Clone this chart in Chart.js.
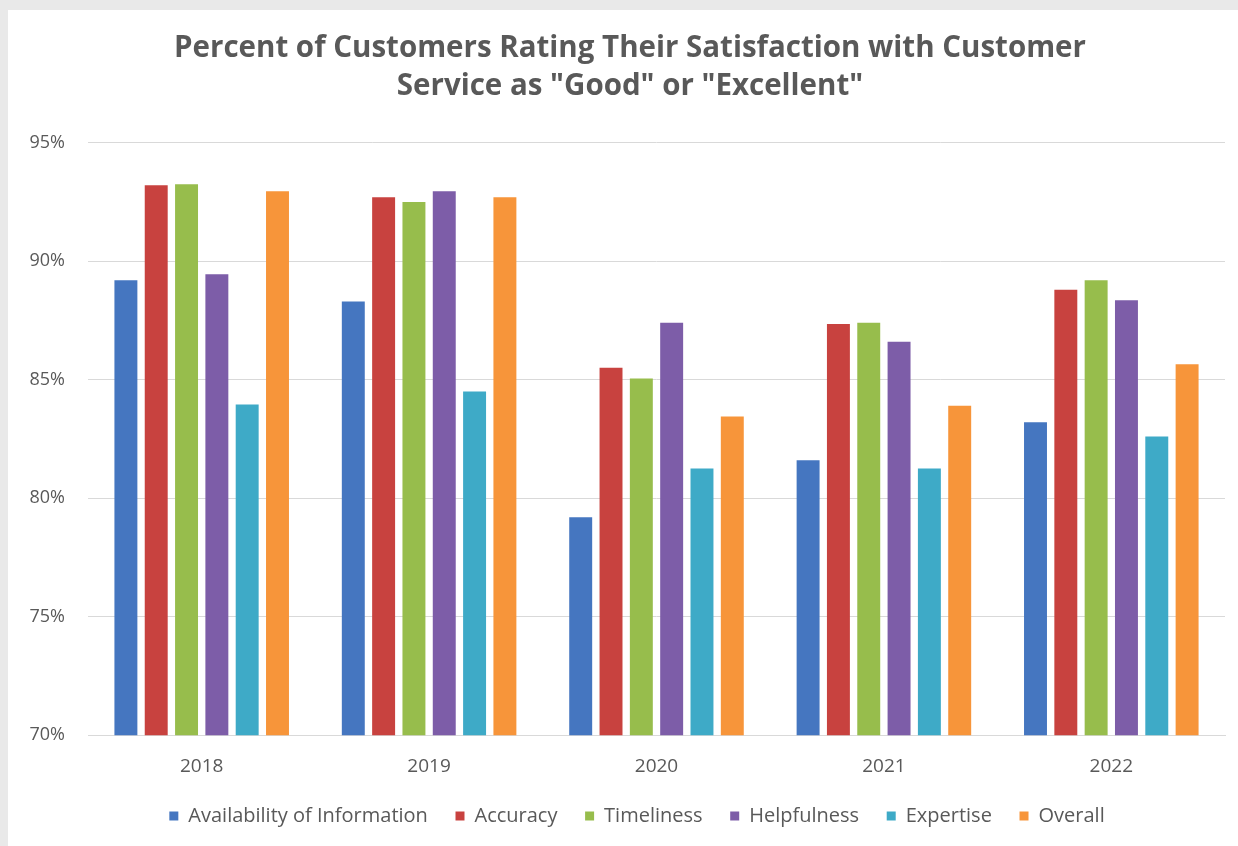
<!DOCTYPE html>
<html>
<head>
<meta charset="utf-8">
<script src="https://cdn.jsdelivr.net/npm/chart.js@4"></script>
<style>
    html, body { margin: 0; padding: 0; background: #e9e9e9; overflow: hidden; }
    #wrap { position: absolute; left: 8px; top: 10px; width: 1230px; height: 836px; background: #fff; }
    #box { position: relative; width: 1230px; height: 829px; }
</style>
</head>
<body>
<div id="wrap"><div id="box"><canvas id="chart"></canvas></div></div>
<script>
const years = ['2018', '2019', '2020', '2021', '2022'];
const seriesNames = ['Availability of Information', 'Accuracy', 'Timeliness', 'Helpfulness', 'Expertise', 'Overall'];
const availability = [89.2, 88.3, 79.2, 81.6, 83.2];
const accuracy     = [93.2, 92.7, 85.5, 87.35, 88.8];
const timeliness   = [93.25, 92.5, 85.05, 87.4, 89.2];
const helpfulness  = [89.45, 92.95, 87.4, 86.6, 88.35];
const expertise    = [83.95, 84.5, 81.25, 81.25, 82.6];
const overall      = [92.95, 92.7, 83.45, 83.9, 85.65];
const yTicks = [70, 75, 80, 85, 90, 95];

const colors = ['#4576c0', '#c8423f', '#97bd4c', '#7d5da8', '#3eaac7', '#f7953a'];
const values = [availability, accuracy, timeliness, helpfulness, expertise, overall];

// nudge legend row and title a bit, like the original
const boxShift = {
    id: 'boxShift',
    afterLayout(chart) {
        chart.legend.left += 12;
        chart.legend.right += 12;
        chart.legend.top -= 3;
        chart.legend.bottom -= 3;
        chart.titleBlock.left += 5;
        chart.titleBlock.right += 5;
    }
};

document.addEventListener('DOMContentLoaded', function () {
    const ctx = document.getElementById('chart').getContext('2d');
    const font = "'Open Sans', 'DejaVu Sans', sans-serif";

    new Chart(ctx, {
        type: 'bar',
        data: {
            labels: years,
            datasets: seriesNames.map((name, i) => ({
                label: name,
                data: values[i],
                backgroundColor: colors[i],
                borderWidth: 0,
                categoryPercentage: 0.80,
                barPercentage: 0.757
            }))
        },
        plugins: [boxShift],
        options: {
            responsive: true,
            maintainAspectRatio: false,
            animation: false,
            layout: { padding: { left: 17, right: 13, top: 0, bottom: 0 } },
            plugins: {
                title: {
                    display: true,
                    text: ['Percent of Customers Rating Their Satisfaction with Customer', 'Service as "Good" or "Excellent"'],
                    color: '#595959',
                    font: { family: font, size: 29.5, weight: 'bold', lineHeight: 1.3 },
                    padding: { top: 19, bottom: 37 }
                },
                legend: {
                    position: 'bottom',
                    labels: {
                        color: '#595959',
                        font: { family: font, size: 20 },
                        boxWidth: 9,
                        boxHeight: 9,
                        padding: 11,
                        // wider gaps between items without a taller legend
                        generateLabels: chart => {
                            const items = Chart.defaults.plugins.legend.labels.generateLabels(chart);
                            items.forEach((it, i) => {
                                if (i < items.length - 1) it.text = it.text + '\u2002\u2009\u2009';
                            });
                            return items;
                        }
                    }
                },
                tooltip: { enabled: false }
            },
            scales: {
                x: {
                    grid: { display: false, drawTicks: false },
                    border: { color: '#d9d9d9' },
                    ticks: { color: '#595959', font: { family: font, size: 19 }, padding: 20 }
                },
                y: {
                    min: 70,
                    max: 95,
                    afterBuildTicks: scale => { scale.ticks = yTicks.map(v => ({ value: v })); },
                    afterFit: scale => { scale.width = 63; },
                    grid: { color: '#d9d9d9', drawTicks: false },
                    border: { display: false },
                    ticks: {
                        color: '#595959',
                        font: { family: font, size: 18 },
                        padding: 23,
                        callback: v => v + '%'
                    }
                }
            }
        }
    });
});
</script>
</body>
</html>
